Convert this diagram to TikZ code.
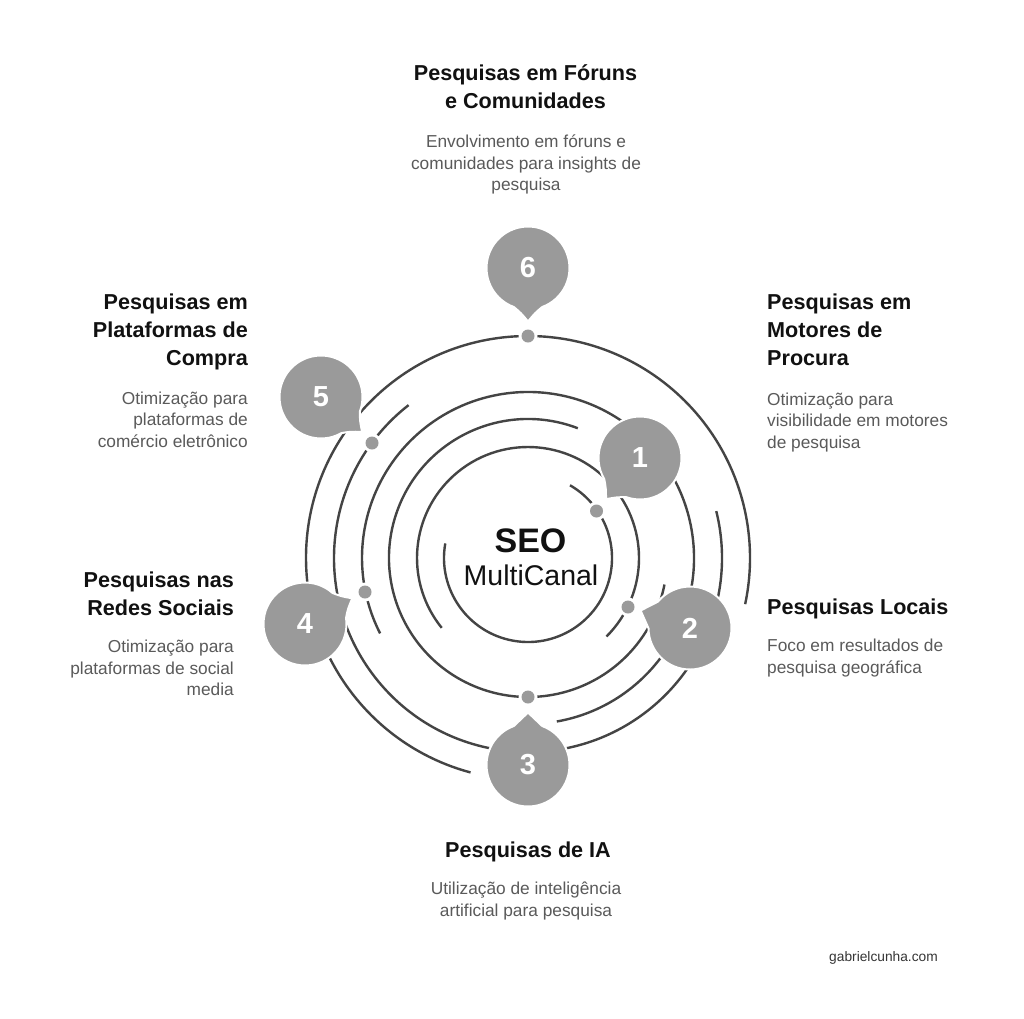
\documentclass[tikz,border=0pt]{standalone}
\usepackage{fontspec}
\setmainfont{Liberation Sans}
\definecolor{ring}{HTML}{444444}
\definecolor{bub}{HTML}{9A9A9A}
\definecolor{ttl}{HTML}{111111}
\definecolor{dsc}{HTML}{5A5A5A}
\tikzset{
  x=1pt,y=1pt,
  ringarc/.style={draw=ring,line width=2.4pt,line cap=butt},
  bubshape/.style={fill=bub,draw=white,line width=2pt,line join=miter,miter limit=10},
  bubnum/.style={text=white,font=\fontsize{29}{29}\selectfont\bfseries,inner sep=0pt},
  dothalo/.style={circle,fill=white,minimum size=19pt,inner sep=0pt},
  dotmark/.style={circle,fill=bub,minimum size=13pt,inner sep=0pt},
  ttlnode/.style={text=ttl,font=\fontsize{21.6}{28}\selectfont\bfseries,inner sep=0pt},
  dscnode/.style={text=dsc,font=\fontsize{17.3}{21.6}\selectfont,inner sep=0pt},
}
\newcommand{\ringpart}[3]{\draw[ringarc] ($(528,-558)+(#2:#1)$) arc[start angle=#2,end angle=#3,radius=#1];}
\newcommand{\bubblemark}[6]{%
  \coordinate (#1c) at (#2,-#3);
  \pgfmathsetmacro{\thA}{atan2(-#5+#3,#4-#2)}
  \coordinate (#1t) at ($(#4,-#5)+(\thA:1.5)$);
  \path[bubshape] ($(#1c)+(\thA+20:41.5)$) arc[start angle=\thA+20,end angle=\thA+340,radius=41.5]
     .. controls ($(#1c)+(\thA-9:45.5)$) .. (#1t)
     .. controls ($(#1c)+(\thA+9:45.5)$) .. cycle;
  \node[bubnum] (#1) at (#1c) {#6};
}
\usetikzlibrary{calc}
\begin{document}
\begin{tikzpicture}
\useasboundingbox (0,0) rectangle (1024,-1018);
\fill[white] (0,0) rectangle (1024,-1018);
% rings
\ringpart{222}{-12}{88}
\ringpart{222}{92}{255}
\ringpart{194}{128}{374}
\ringpart{166}{-80}{207}
\ringpart{139}{69}{349}
\ringpart{111}{-45}{219}
\ringpart{84}{170}{420}
% dot halos
\node[dothalo] (h6) at (528,-336) {};
\node[dothalo] (h5) at (372,-443) {};
\node[dothalo] (h4) at (365,-592) {};
\node[dothalo] (h3) at (528,-697) {};
\node[dothalo] (h2) at (628,-607) {};
\node[dothalo] (h1) at (596.5,-511) {};
% bubbles
\bubblemark{b1}{640}{458}{607}{498}{1}
\bubblemark{b2}{690}{628}{642}{611}{2}
\bubblemark{b3}{528}{765}{528}{714}{3}
\bubblemark{b4}{305}{624}{351}{599}{4}
\bubblemark{b5}{321}{397}{361}{431}{5}
\bubblemark{b6}{528}{268}{528}{320}{6}
% dots
\node[dotmark] (d6) at (h6) {};
\node[dotmark] (d5) at (h5) {};
\node[dotmark] (d4) at (h4) {};
\node[dotmark] (d3) at (h3) {};
\node[dotmark] (d2) at (h2) {};
\node[dotmark] (d1) at (h1) {};
% centre
\node[text=ttl,font=\fontsize{34}{34}\selectfont\bfseries,inner sep=0pt] (seo) at (530.5,-541) {SEO};
\node[text=ttl,font=\fontsize{28.5}{28.5}\selectfont,inner sep=0pt] (mc) at (531,-575) {MultiCanal};
% labels
\node[ttlnode,align=center,anchor=north] (t6) at (525.5,-64) {Pesquisas em Fóruns\\e Comunidades};
\node[dscnode,align=center,anchor=north] (p6) at (526,-134.5) {Envolvimento em fóruns e\\comunidades para insights de\\pesquisa};
\node[ttlnode,align=left,anchor=north west] (t1) at (767,-294) {Pesquisas em\\Motores de\\Procura};
\node[dscnode,align=left,anchor=north west] (p1) at (767,-392.5) {Otimização para\\visibilidade em motores\\de pesquisa};
\node[ttlnode,align=left,anchor=north west] (t2) at (767,-599) {Pesquisas Locais};
\node[dscnode,align=left,anchor=north west] (p2) at (767,-639) {Foco em resultados de\\pesquisa geográfica};
\node[ttlnode,align=center,anchor=north] (t3) at (528,-842) {Pesquisas de IA};
\node[dscnode,align=center,anchor=north] (p3) at (526,-882) {Utilização de inteligência\\artificial para pesquisa};
\node[ttlnode,align=right,anchor=north east] (t4) at (234,-572) {Pesquisas nas\\Redes Sociais};
\node[dscnode,align=right,anchor=north east] (p4) at (234,-640) {Otimização para\\plataformas de social\\media};
\node[ttlnode,align=right,anchor=north east] (t5) at (248,-293.5) {Pesquisas em\\Plataformas de\\Compra};
\node[dscnode,align=right,anchor=north east] (p5) at (248,-391.5) {Otimização para\\plataformas de\\comércio eletrônico};
\node[text=ttl!85!white,font=\fontsize{13.75}{13.75}\selectfont,inner sep=0pt] (credit) at (883.5,-958) {gabrielcunha.com};
\end{tikzpicture}
\end{document}
